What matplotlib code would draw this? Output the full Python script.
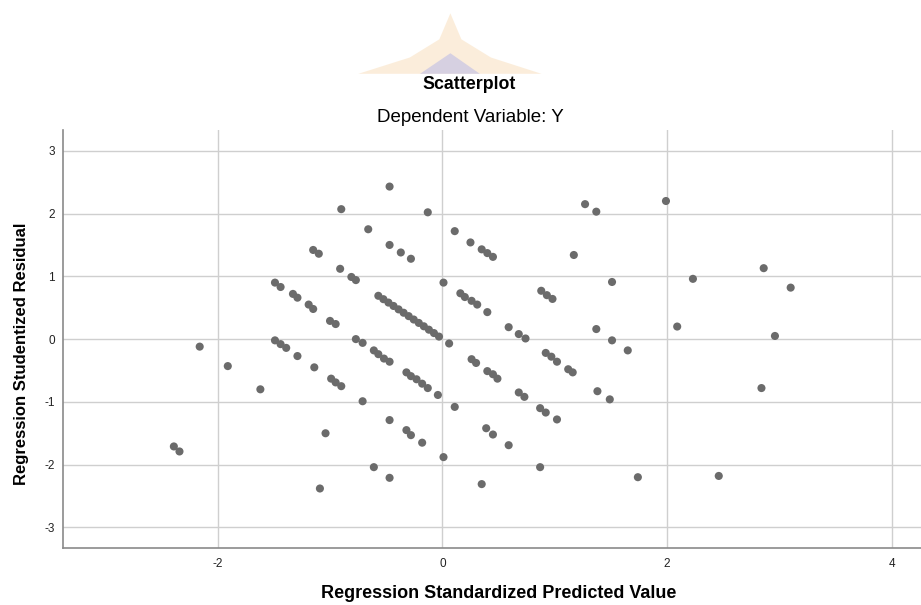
import matplotlib
matplotlib.use('Agg')
import matplotlib.pyplot as plt
from matplotlib.patches import Polygon

plt.rcParams['font.family'] = ['Liberation Sans', 'DejaVu Sans']
plt.rcParams['axes.unicode_minus'] = False

# standardized predicted values (x) and studentized residuals (y)
pred = [-0.90, -1.15, -1.10, -0.91, -0.81, -0.77, -1.49, -1.44, -1.33, -1.29,
        -1.19, -1.15, -1.00, -0.95, -2.16, -1.49, -1.44, -1.39, -0.77, -0.71,
        -0.47, -0.13, -0.66, -0.47, -0.37, -0.28, 0.11, 0.25, 0.35, 0.40,
        0.45, 1.27, 1.37, 1.17, 0.01,
        -0.57, -0.525, -0.48, -0.435, -0.39, -0.345, -0.30, -0.255, -0.21, -0.165,
        -0.12, -0.075, -0.03,
        0.16, 0.20, 0.26, 0.31, 0.40, 0.88, 0.93, 0.98, 0.59, 0.68, 0.74, 1.37,
        0.06, 1.99, 1.51, 2.23, 2.86, 3.10, 2.09, 2.96, 1.51, 1.65,
        -1.29, -1.91, -1.14, -0.99, -0.95, -0.90, -1.62, -1.04, -2.39, -2.34,
        -1.09, -0.61, -0.57, -0.52, -0.47, -0.32, -0.28, -0.23, -0.18, -0.13,
        -0.04, -0.71, 0.11, -0.47, -0.32, -0.28, -0.18, 0.01, -0.61, -0.47,
        0.26, 0.30, 0.40, 0.45, 0.49, 0.68, 0.73, 0.92, 0.97, 1.02,
        1.12, 1.16, 1.38, 0.87, 0.92, 1.02, 0.39, 0.45, 0.59, 0.87,
        0.35, 1.49, 1.74, 2.46, 2.84]
resid = [2.07, 1.42, 1.36, 1.12, 0.99, 0.94, 0.90, 0.83, 0.72, 0.66,
         0.55, 0.48, 0.29, 0.24, -0.12, -0.02, -0.08, -0.14, 0.00, -0.06,
         2.43, 2.02, 1.75, 1.50, 1.38, 1.28, 1.72, 1.54, 1.43, 1.37,
         1.31, 2.15, 2.03, 1.34, 0.90,
         0.69, 0.636, 0.582, 0.528, 0.474, 0.42, 0.366, 0.312, 0.258, 0.204,
         0.15, 0.096, 0.04,
         0.73, 0.67, 0.61, 0.55, 0.43, 0.77, 0.70, 0.64, 0.19, 0.08, 0.01, 0.16,
         -0.07, 2.20, 0.91, 0.96, 1.13, 0.82, 0.20, 0.05, -0.02, -0.18,
         -0.27, -0.43, -0.45, -0.63, -0.69, -0.75, -0.80, -1.50, -1.71, -1.79,
         -2.38, -0.18, -0.24, -0.31, -0.36, -0.53, -0.59, -0.64, -0.71, -0.78,
         -0.89, -0.99, -1.08, -1.29, -1.45, -1.53, -1.65, -1.88, -2.04, -2.21,
         -0.32, -0.38, -0.51, -0.56, -0.63, -0.85, -0.92, -0.22, -0.28, -0.36,
         -0.48, -0.53, -0.83, -1.10, -1.17, -1.28, -1.42, -1.52, -1.69, -2.04,
         -2.31, -0.96, -2.20, -2.18, -0.78]

xticks = [-2, 0, 2, 4]
yticks = [-3, -2, -1, 0, 1, 2, 3]

fig = plt.figure(figsize=(9.21, 6.05), dpi=100)

# faint watermark behind the title
fig.patches.append(Polygon([(0.389, 0.878), (0.445, 0.905), (0.477, 0.935),
                            (0.489, 0.978), (0.501, 0.935), (0.533, 0.905),
                            (0.588, 0.878)],
                           closed=True, transform=fig.transFigure,
                           facecolor='#f3c68a', edgecolor='none', alpha=0.3,
                           zorder=0))
fig.patches.append(Polygon([(0.456, 0.878), (0.489, 0.912), (0.521, 0.878)],
                           closed=True, transform=fig.transFigure,
                           facecolor='#b9b9e6', edgecolor='none', alpha=0.55,
                           zorder=0))

ax = fig.add_axes([0.068, 0.094, 0.932, 0.691])

ax.scatter(pred, resid, s=34, color='#6b6b6b', edgecolors='none', zorder=3)

ax.set_xlim(-3.38, 4.26)
ax.set_ylim(-3.33, 3.33)
ax.set_xticks(xticks)
ax.set_yticks(yticks)
ax.grid(True, color='#cfcfcf', linewidth=1.0, zorder=0)
ax.tick_params(axis='x', length=0, labelsize=8.5, colors='#222222', pad=7)
ax.tick_params(axis='y', length=0, labelsize=8.5, colors='#222222', pad=5.5)

for side in ['top', 'right']:
    ax.spines[side].set_visible(False)
for side in ['left', 'bottom']:
    ax.spines[side].set_color('#8a8a8a')
    ax.spines[side].set_linewidth(1.2)

# axis titles
fig.text(0.541, 0.011, 'Regression Standardized Predicted Value', ha='center',
         va='baseline', fontsize=13, fontweight='bold')
fig.text(0.023, 0.415, 'Regression Studentized Residual', ha='center',
         va='center', rotation=90, fontsize=12, fontweight='bold')

# chart titles
fig.text(0.509, 0.853, 'Scatterplot', ha='center', va='baseline', fontsize=12.8,
         fontweight='bold')
fig.text(0.511, 0.798, 'Dependent Variable: Y', ha='center', va='baseline',
         fontsize=13.5)

fig.savefig('out.png', dpi=100)
